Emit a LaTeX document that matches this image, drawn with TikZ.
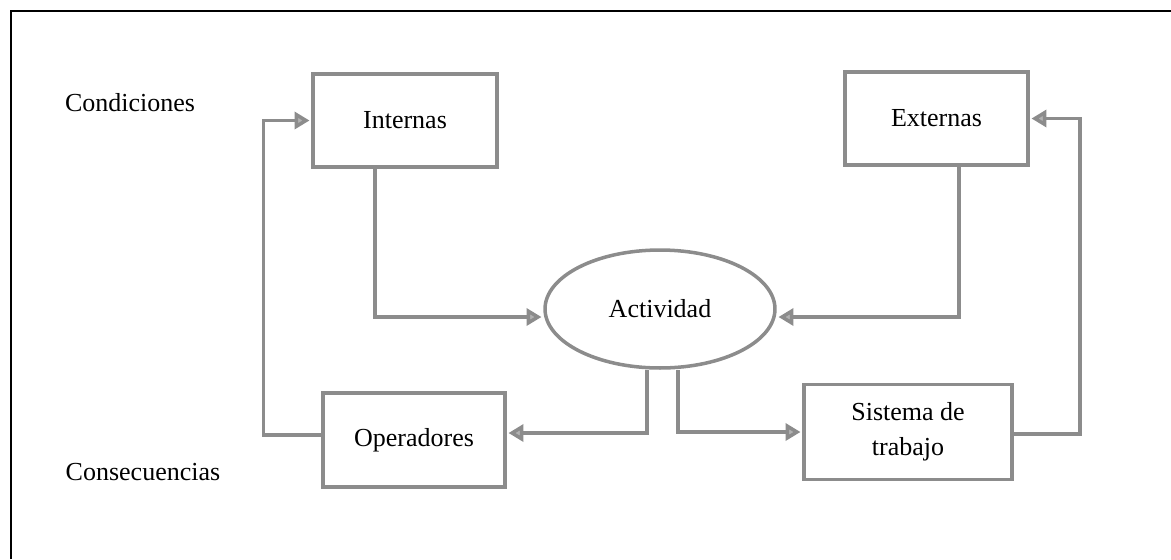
\documentclass[tikz,border=0pt]{standalone}
\usepackage{fontspec}
\setmainfont{Liberation Serif}
\usepackage{xcolor}
\usetikzlibrary{shapes.geometric, arrows.meta, positioning, calc}

\begin{document}
\begin{tikzpicture}[x=0.02cm, y=-0.02cm, font=\fontsize{14.8}{17}\selectfont]
    \tikzstyle{box} = [rectangle, draw=black!45, line width=2pt, text centered, align=center, minimum height=1.86cm]
    \tikzstyle{activity} = [ellipse, draw=black!45, line width=2pt, minimum width=4.6cm, minimum height=2.36cm]
    \tikzstyle{arrow} = [draw=black!45, line width=2pt, -{Triangle[length=0.3cm, width=0.34cm, fill=black!30]}, shorten >=1pt]
    \tikzstyle{label} = [text=black, inner sep=0pt]

    \useasboundingbox (0,0) rectangle (1171,559);
    % frame
    \draw[line width=0.9pt] (11,559) -- (11,11) -- (1171,11);

    \node[label] (cond) at (130,103) {Condiciones};
    \node[label] (cons) at (143,472) {Consecuencias};

    \node[box, minimum width=3.68cm] (internas) at (405,120.5) {Internas};
    \node[box, minimum width=3.66cm] (externas) at (936.5,118.5) {Externas};
    \node[activity] (actividad) at (660,309) {Actividad};
    \node[box, minimum width=3.64cm, minimum height=1.88cm] (operadores) at (414,440) {Operadores};
    \node[box, minimum width=4.16cm, minimum height=1.9cm, font=\fontsize{14.8}{20}\selectfont] (sistema) at (908,432) {Sistema de\\trabajo};

    \draw[arrow] ([xshift=-0.6cm]internas.south) |- ([yshift=-0.16cm]actividad.west);
    \draw[arrow] ([xshift=0.45cm]externas.south) |- ([yshift=-0.16cm]actividad.east);
    \draw[arrow] ([xshift=-0.26cm]actividad.south) |- ([yshift=0.14cm]operadores.east);
    \draw[arrow] ([xshift=0.36cm]actividad.south) |- ([yshift=0cm]sistema.west);
    \draw[arrow] ([yshift=0.1cm]operadores.west) -- ++(-58,0) |- (internas.west);
    \draw[arrow] ([yshift=-0.04cm]sistema.east) -- ++(66,0) |- (externas.east);
\end{tikzpicture}
\end{document}
